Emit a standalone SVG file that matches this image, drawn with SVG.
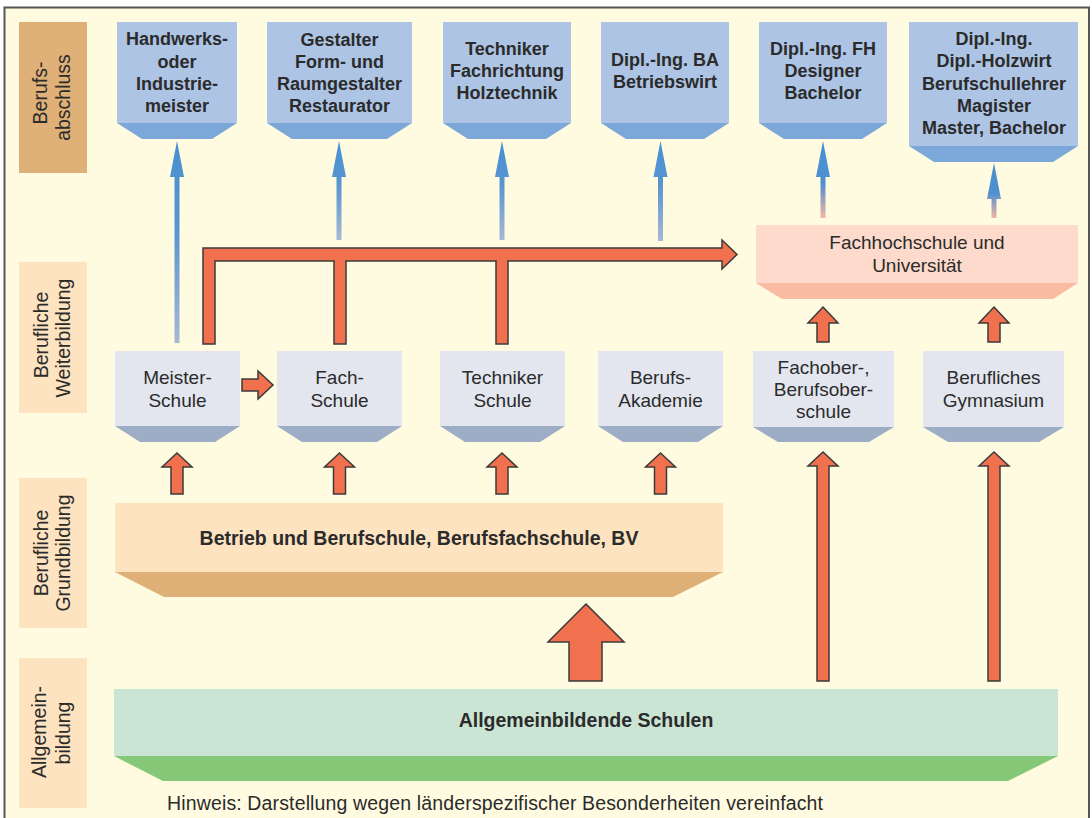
<svg xmlns="http://www.w3.org/2000/svg" width="1092" height="818" viewBox="0 0 1092 818">
<defs>
<linearGradient id="gBlue" x1="0" y1="0" x2="0" y2="1">
<stop offset="0" stop-color="#4790D2"/>
<stop offset="0.45" stop-color="#5A95D1"/>
<stop offset="1" stop-color="#A6B9D4"/>
</linearGradient>
<linearGradient id="gBluePink" x1="0" y1="0" x2="0" y2="1">
<stop offset="0" stop-color="#4790D2"/>
<stop offset="0.55" stop-color="#4F90D0"/>
<stop offset="1" stop-color="#F6B4A2"/>
</linearGradient>
<style>
.lbl{font-family:"Liberation Sans",Arial,sans-serif;font-size:19.5px;fill:#2B2B2B;text-anchor:middle}
.tb{font-family:"Liberation Sans",Arial,sans-serif;font-size:18px;font-weight:bold;fill:#2B2B2B;text-anchor:middle}
.tm{font-family:"Liberation Sans",Arial,sans-serif;font-size:19px;fill:#2B2B2B;text-anchor:middle}
.tbig{font-family:"Liberation Sans",Arial,sans-serif;font-size:19.5px;font-weight:bold;fill:#2B2B2B;text-anchor:middle}
.note{font-family:"Liberation Sans",Arial,sans-serif;font-size:19.5px;fill:#2B2B2B}
.topF{fill:#ADC4E4}
.topB{fill:#7BA7D9}
.midF{fill:#E3E6EF}
.midB{fill:#9EADC6}
.red{fill:#F1714F;stroke:#3A3A3A;stroke-width:1.5;stroke-linejoin:miter}
</style>
</defs>

<rect x="0" y="0" width="1092" height="818" fill="#FFFFFF"/>
<rect x="4.5" y="7.5" width="1084.5" height="830" fill="#FFFBE0" stroke="#555555" stroke-width="2"/>

<!-- Row labels -->
<g id="row-berufsabschluss">
<rect x="19" y="22" width="68" height="151" fill="#DFB077"/>
<text class="lbl" transform="translate(47,93) rotate(-90)">Berufs-</text>
<text class="lbl" transform="translate(70,97.5) rotate(-90)">abschluss</text>
</g>
<g id="row-weiterbildung">
<rect x="19" y="262" width="68" height="151" fill="#FDE3C0"/>
<text class="lbl" transform="translate(48,335) rotate(-90)">Berufliche</text>
<text class="lbl" transform="translate(70,338) rotate(-90)">Weiterbildung</text>
</g>
<g id="row-grundbildung">
<rect x="19" y="478" width="68" height="150" fill="#FDE3C0"/>
<text class="lbl" transform="translate(48,553) rotate(-90)">Berufliche</text>
<text class="lbl" transform="translate(70,553) rotate(-90)">Grundbildung</text>
</g>
<g id="row-allgemeinbildung">
<rect x="19" y="658" width="68" height="150" fill="#FDE3C0"/>
<text class="lbl" transform="translate(46,732) rotate(-90)">Allgemein-</text>
<text class="lbl" transform="translate(70,733) rotate(-90)">bildung</text>
</g>

<!-- Top boxes -->
<g id="abschluss-meister">
<rect class="topF" x="117" y="22" width="120" height="101"/>
<polygon class="topB" points="117,123 237,123 212,139 142,139"/>
<text class="tb" x="177" y="45">Handwerks-</text>
<text class="tb" x="177" y="68">oder</text>
<text class="tb" x="177" y="90">Industrie-</text>
<text class="tb" x="177" y="112">meister</text>
</g>
<g id="abschluss-gestalter">
<rect class="topF" x="267" y="22" width="145" height="101"/>
<polygon class="topB" points="267,123 412,123 387,139 292,139"/>
<text class="tb" x="339.5" y="46">Gestalter</text>
<text class="tb" x="339.5" y="68">Form- und</text>
<text class="tb" x="339.5" y="90">Raumgestalter</text>
<text class="tb" x="339.5" y="112">Restaurator</text>
</g>
<g id="abschluss-techniker">
<rect class="topF" x="443" y="22" width="128" height="101"/>
<polygon class="topB" points="443,123 571,123 546,139 468,139"/>
<text class="tb" x="507" y="55">Techniker</text>
<text class="tb" x="507" y="77">Fachrichtung</text>
<text class="tb" x="507" y="99">Holztechnik</text>
</g>
<g id="abschluss-ba">
<rect class="topF" x="601" y="22" width="128" height="101"/>
<polygon class="topB" points="601,123 729,123 704,139 626,139"/>
<text class="tb" x="665" y="66">Dipl.-Ing. BA</text>
<text class="tb" x="665" y="88">Betriebswirt</text>
</g>
<g id="abschluss-fh">
<rect class="topF" x="759" y="22" width="128" height="101"/>
<polygon class="topB" points="759,123 887,123 862,139 784,139"/>
<text class="tb" x="823" y="55">Dipl.-Ing. FH</text>
<text class="tb" x="823" y="77">Designer</text>
<text class="tb" x="823" y="99">Bachelor</text>
</g>
<g id="abschluss-uni">
<rect class="topF" x="909" y="22" width="169" height="124"/>
<polygon class="topB" points="909,146 1078,146 1053,162 934,162"/>
<text class="tb" x="994" y="45">Dipl.-Ing.</text>
<text class="tb" x="994" y="67">Dipl.-Holzwirt</text>
<text class="tb" x="994" y="90">Berufschullehrer</text>
<text class="tb" x="994" y="112">Magister</text>
<text class="tb" x="994" y="134">Master, Bachelor</text>
</g>

<!-- Fachhochschule -->
<g id="fachhochschule">
<rect x="756" y="225" width="322" height="58" fill="#FDDACB"/>
<polygon points="756,283 1078,283 1053,299 782,299" fill="#F9BCA3"/>
<text class="tm" x="917" y="249">Fachhochschule und</text>
<text class="tm" x="917" y="272">Universität</text>
</g>

<!-- Middle boxes -->
<g id="meisterschule">
<rect class="midF" x="115" y="351" width="125" height="75"/>
<polygon class="midB" points="115,426 240,426 215,442 140,442"/>
<text class="tm" x="177.5" y="384">Meister-</text>
<text class="tm" x="177.5" y="407">Schule</text>
</g>
<g id="fachschule">
<rect class="midF" x="277" y="351" width="125" height="75"/>
<polygon class="midB" points="277,426 402,426 377,442 302,442"/>
<text class="tm" x="339.5" y="384">Fach-</text>
<text class="tm" x="339.5" y="407">Schule</text>
</g>
<g id="technikerschule">
<rect class="midF" x="440" y="351" width="125" height="75"/>
<polygon class="midB" points="440,426 565,426 540,442 465,442"/>
<text class="tm" x="502.5" y="384">Techniker</text>
<text class="tm" x="502.5" y="407">Schule</text>
</g>
<g id="berufsakademie">
<rect class="midF" x="598" y="351" width="125" height="75"/>
<polygon class="midB" points="598,426 723,426 698,442 623,442"/>
<text class="tm" x="660.5" y="384">Berufs-</text>
<text class="tm" x="660.5" y="407">Akademie</text>
</g>
<g id="fachoberschule">
<rect class="midF" x="753" y="351" width="141" height="76"/>
<polygon class="midB" points="753,427 894,427 869,442 778,442"/>
<text class="tm" x="823.5" y="374">Fachober-,</text>
<text class="tm" x="823.5" y="396">Berufsober-</text>
<text class="tm" x="823.5" y="418">schule</text>
</g>
<g id="berufliches-gymnasium">
<rect class="midF" x="923" y="351" width="141" height="76"/>
<polygon class="midB" points="923,427 1064,427 1039,442 948,442"/>
<text class="tm" x="993.5" y="384">Berufliches</text>
<text class="tm" x="993.5" y="407">Gymnasium</text>
</g>

<!-- Betrieb -->
<g id="betrieb">
<rect x="115" y="503" width="608" height="69" fill="#FDE3C0"/>
<polygon points="115,572 723,572 673,597 164,597" fill="#DFB077"/>
<text class="tbig" x="419" y="545">Betrieb und Berufschule, Berufsfachschule, BV</text>
</g>

<!-- Allgemeinbildende -->
<g id="allgemeinbildende">
<rect x="114" y="689" width="944" height="67" fill="#CBE5D5"/>
<polygon points="114,756 1058,756 1008,781 163,781" fill="#85C978"/>
<text class="tbig" x="586" y="727">Allgemeinbildende Schulen</text>
</g>

<!-- Connectors -->
<g id="connectors">
<!-- blue arrows -->
<polygon fill="url(#gBlue)" points="177,141 184,177 179.5,177 179.5,343 174.5,343 174.5,177 170,177"/>
<polygon fill="url(#gBlue)" points="339,141 346,177 341.5,177 341.5,240 336.5,240 336.5,177 332,177"/>
<polygon fill="url(#gBlue)" points="502,141 509,177 504.5,177 504.5,240 499.5,240 499.5,177 495,177"/>
<polygon fill="url(#gBlue)" points="660.5,141 667.5,177 663,177 663,241 658,241 658,177 653.5,177"/>
<polygon fill="url(#gBluePink)" points="823,141 830,177 825.5,177 825.5,218 820.5,218 820.5,177 816,177"/>
<polygon fill="url(#gBluePink)" points="994,163 1001,199 996.5,199 996.5,218 991.5,218 991.5,199 987,199"/>

<!-- big L-shaped red arrow -->
<polygon class="red" points="203,344 203,248 722,248 722,240 737,254.5 722,269 722,261 508,261 508,344 496,344 496,261 346,261 346,344 334,344 334,261 215,261 215,344"/>

<!-- Meister -> Fach -->
<polygon class="red" points="242,379 258,379 258,371 273,385 258,399 258,391 242,391"/>

<!-- small up arrows Grundbildung -> Weiterbildung -->
<polygon class="red" points="177,453 192,467 183,467 183,494 171,494 171,467 162,467"/>
<polygon class="red" points="339.5,453 354.5,467 345.5,467 345.5,494 333.5,494 333.5,467 324.5,467"/>
<polygon class="red" points="502,453 517,467 508,467 508,494 496,494 496,467 487,467"/>
<polygon class="red" points="660.5,453 675.5,467 666.5,467 666.5,494 654.5,494 654.5,467 645.5,467"/>

<!-- up arrows to Fachhochschule -->
<polygon class="red" points="823,307 838,323 829,323 829,342 817,342 817,323 808,323"/>
<polygon class="red" points="994,307 1009,323 1000,323 1000,342 988,342 988,323 979,323"/>

<!-- long arrows from Allgemeinbildende -->
<polygon class="red" points="823,452 838,466 829,466 829,681 817,681 817,466 808,466"/>
<polygon class="red" points="994,452 1009,466 1000,466 1000,681 988,681 988,466 979,466"/>

<!-- big arrow -->
<polygon class="red" points="586,604 624,642 602,642 602,681 569,681 569,642 548,642"/>
</g>

<text class="note" x="167" y="810" textLength="656" lengthAdjust="spacing">Hinweis: Darstellung wegen länderspezifischer Besonderheiten vereinfacht</text>
</svg>
